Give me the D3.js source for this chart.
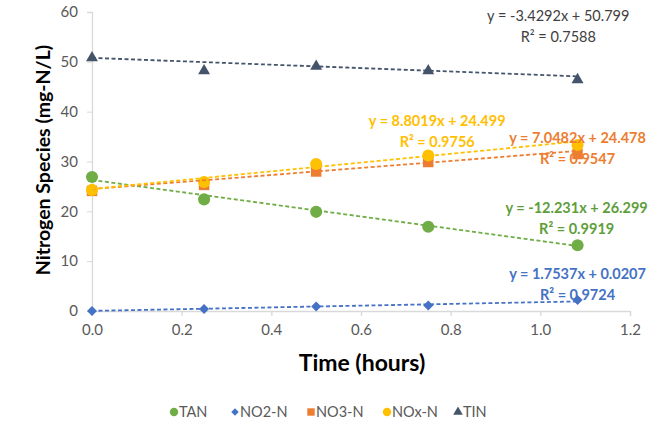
<!DOCTYPE html>
<html><head><meta charset="utf-8">
<script src="https://cdn.jsdelivr.net/npm/d3@7"></script>
<style>body{margin:0;background:#fff}svg{display:block}text{font-family:Lato,"Open Sans",sans-serif}</style>
</head><body><svg id="c" width="664" height="425"></svg>
<script>
const times = [0, 0.25, 0.5, 0.75, 1.083];
const seriesNames = ["TAN", "NO2-N", "NO3-N", "NOx-N", "TIN"];
const TAN = [26.9, 22.4, 19.9, 16.9, 13.2];
const NO2 = [0.0, 0.4, 0.9, 1.1, 2.2];
const NO3 = [24.1, 25.3, 28.0, 29.9, 31.5];
const NOx = [24.3, 25.9, 29.5, 31.2, 33.3];
const TIN = [50.8, 48.2, 49.1, 48.2, 46.4];
const slopes = [-12.231, 1.7537, 7.0482, 8.8019, -3.4292];
const intercepts = [26.299, 0.0207, 24.478, 24.499, 50.799];
const eqLabels = ["y = -12.231x + 26.299", "y = 1.7537x + 0.0207", "y = 7.0482x + 24.478", "y = 8.8019x + 24.499", "y = -3.4292x + 50.799"];
const r2Labels = ["R² = 0.9919", "R² = 0.9724", "R² = 0.9547", "R² = 0.9756", "R² = 0.7588"];
const xTicks = [0, 0.2, 0.4, 0.6, 0.8, 1.0, 1.2];
const yTicks = [0, 10, 20, 30, 40, 50, 60];

const colors = ["#70AD47", "#4472C4", "#ED7D31", "#FFC000", "#44546A"];
const textColors = ["#5E9E3A", "#4472C4", "#ED7D31", "#FFC000", "#404040"];
const shapes = [d3.symbolCircle, d3.symbolSquare, d3.symbolSquare, d3.symbolCircle, d3.symbolTriangle];
const rotations = [0, 45, 0, 0, 0];
const sizes = [115, 50, 110, 115, 62];
const legSizes = [55, 28, 55, 55, 40];
// label anchor positions in data units (x, y of equation line center)
const labelPos = [[1.081, 20.6], [1.083, 7.5], [1.083, 34.8], [0.77, 38.2], [1.04, 59.2]];
const data = [TAN, NO2, NO3, NOx, TIN];

const svg = d3.select("#c");
const x = d3.scaleLinear().domain([0, 1.2]).range([92, 630]);
const y = d3.scaleLinear().domain([0, 60]).range([311, 12]);

const gx = svg.append("g").attr("transform", "translate(0,311)")
  .call(d3.axisBottom(x).tickValues(xTicks).tickFormat(d3.format(".1f")).tickSizeOuter(0).tickSize(5).tickPadding(8));
const gy = svg.append("g").attr("transform", "translate(92,0)")
  .call(d3.axisLeft(y).tickValues(yTicks).tickSizeOuter(0).tickSize(5).tickPadding(9));
[gx, gy].forEach(g => {
  g.select(".domain").attr("stroke", "#d9d9d9").attr("stroke-width", 1.3);
  g.selectAll(".tick line").attr("stroke", "#d9d9d9").attr("stroke-width", 1.3);
  g.selectAll(".tick text").attr("fill", "#595959").style("font-size", "15px").style("font-family", "Lato, sans-serif");
});
gy.selectAll(".tick line").attr("stroke", "none");
gy.selectAll(".tick").filter(d => d !== 0).append("line").attr("x1", -5).attr("x2", 0).attr("stroke", "#d9d9d9");

// markers
data.forEach((vals, i) => {
  svg.append("g").selectAll("path").data(vals).join("path")
    .attr("d", d3.symbol().type(shapes[i]).size(sizes[i]))
    .attr("transform", (d, j) => `translate(${x(times[j])},${y(d)}) rotate(${rotations[i]})`)
    .attr("fill", colors[i]);
});
// trend lines
data.forEach((vals, i) => {
  const x0 = times[0], x1 = times[times.length - 1];
  svg.append("line")
    .attr("x1", x(x0)).attr("y1", y(slopes[i] * x0 + intercepts[i]))
    .attr("x2", x(x1)).attr("y2", y(slopes[i] * x1 + intercepts[i]))
    .attr("stroke", colors[i]).attr("stroke-width", 1.8).attr("stroke-dasharray", "4,2.5");
});
// labels
data.forEach((vals, i) => {
  const [lx, ly] = labelPos[i];
  const t = svg.append("text").attr("text-anchor", "middle").attr("fill", textColors[i])
    .style("font-size", "14.5px").style("font-weight", i === 4 ? "normal" : "bold");
  t.append("tspan").attr("x", x(lx)).attr("y", y(ly)).attr("dy", "0.35em").text(eqLabels[i]);
  t.append("tspan").attr("x", x(lx)).attr("y", y(ly) + 21).attr("dy", "0.35em").text(r2Labels[i]);
});

// axis titles
svg.append("text").attr("x", 362).attr("y", 371).attr("text-anchor", "middle")
  .style("font-size", "23px").style("font-weight", "bold").attr("fill", "#000").text("Time (hours)");
svg.append("text").attr("transform", "translate(50,160) rotate(-90)").attr("text-anchor", "middle")
  .style("font-size", "19.5px").style("font-weight", "bold").attr("fill", "#000").text("Nitrogen Species (mg-N/L)");

// legend
const legX = [174, 235, 311, 387, 458];
const lg = svg.append("g");
seriesNames.forEach((n, i) => {
  lg.append("path").attr("d", d3.symbol().type(shapes[i]).size(legSizes[i]))
    .attr("transform", `translate(${legX[i]},412) rotate(${rotations[i]})`).attr("fill", colors[i]);
  lg.append("text").attr("x", legX[i] + 5).attr("y", 412).attr("dy", "0.35em")
    .attr("fill", "#595959").style("font-size", "14.5px").text(n);
});
</script></body></html>
